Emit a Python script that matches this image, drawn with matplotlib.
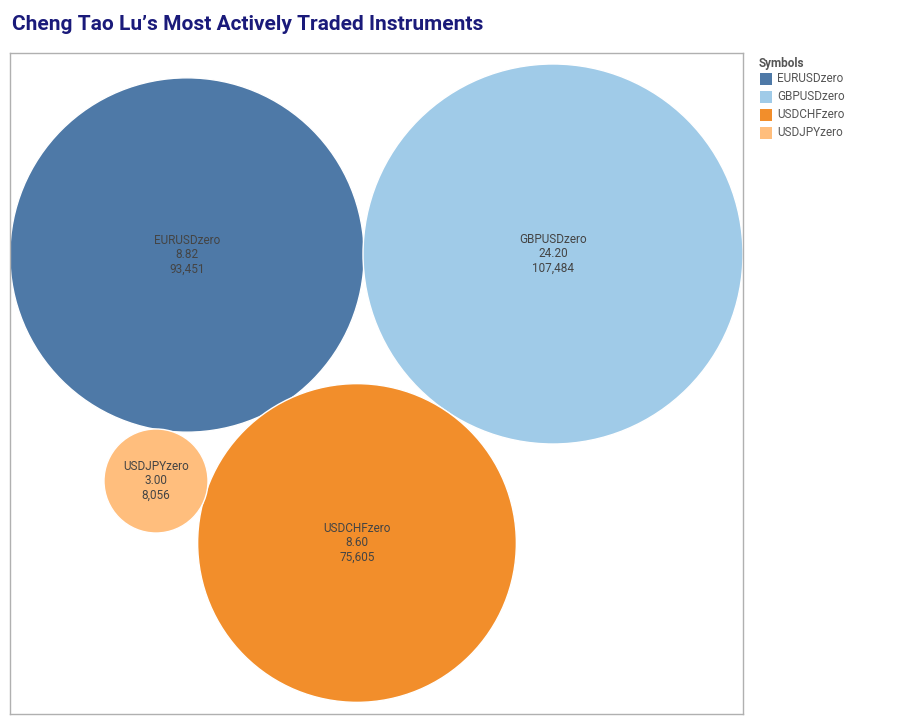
import matplotlib
matplotlib.use("Agg")
import matplotlib.pyplot as plt
import numpy as np
from matplotlib.patches import Circle, Rectangle

symbols = ["EURUSDzero", "GBPUSDzero", "USDCHFzero", "USDJPYzero"]
metric_a = [8.82, 24.20, 8.60, 3.00]
metric_b = [93451, 107484, 75605, 8056]

colors = ["#4e79a7", "#a0cbe8", "#f28e2b", "#ffbe7d"]
# layout (pixel-space centers of packed bubbles)
centers = [(187, 255), (553, 254), (357, 543), (156, 481)]
max_r = 190

W, H = 900, 722
fig = plt.figure(figsize=(9, 7.22), dpi=100)
L, R, T, B = 10, 743, 53, 714
ax = fig.add_axes([L / W, (H - B) / H, (R - L) / W, (B - T) / H])
ax.set_xlim(L, R)
ax.set_ylim(B, T)
ax.set_xticks([]); ax.set_yticks([])
for s in ax.spines.values():
    s.set_color("#b0b0b0"); s.set_linewidth(1)

vmax = max(metric_b)
for sym, a, b, c, (cx, cy) in zip(symbols, metric_a, metric_b, colors, centers):
    r = max_r * np.sqrt(b / vmax)
    ax.add_patch(Circle((cx, cy), r, facecolor=c, edgecolor="white", lw=1))
    ax.text(cx, cy, f"{sym}\n{a:.2f}\n{b:,}", ha="center", va="center",
            fontsize=8.5, color="#444444", linespacing=1.1, family="Roboto")

fig.text(12 / W, 1 - 25 / H, "Cheng Tao Lu’s Most Actively Traded Instruments",
         fontsize=15, fontweight="bold", color="#1a1a7a", va="center", family="Roboto")

fig.text(759 / W, 1 - 64 / H, "Symbols", fontsize=8.5, fontweight="bold",
         color="#555555", va="center", family="Roboto")
for i, (sym, c) in enumerate(zip(symbols, colors)):
    y = 79 + 18 * i
    fig.patches.append(Rectangle((760 / W, 1 - (y + 6) / H), 12 / W, 12 / H,
                                 facecolor=c, transform=fig.transFigure, figure=fig))
    fig.text(777 / W, 1 - y / H, sym, fontsize=8.5, color="#555555",
             va="center", family="Roboto")

fig.savefig("out.png", dpi=100)
